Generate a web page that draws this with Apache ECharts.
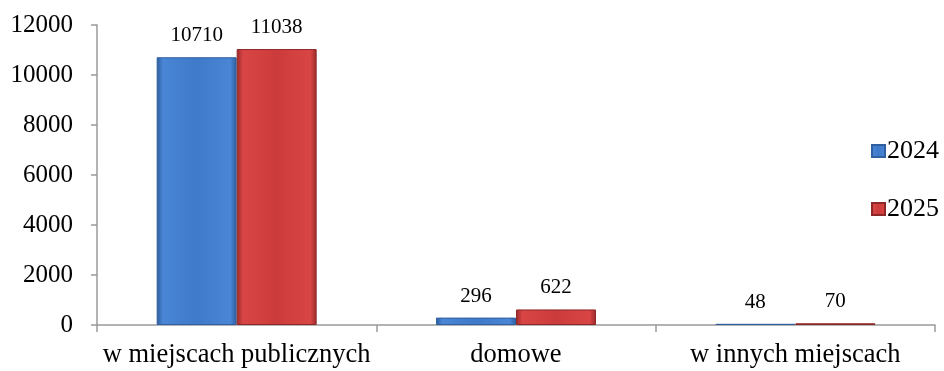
<!DOCTYPE html>
<html>
<head>
<meta charset="utf-8">
<script src="https://cdn.jsdelivr.net/npm/echarts@6/dist/echarts.min.js"></script>
<style>
  html, body { margin: 0; padding: 0; background: #fff; }
  #chart { width: 944px; height: 371px; }
</style>
</head>
<body>
<div id="chart"></div>
<script>
const categories = ['w miejscach publicznych', 'domowe', 'w innych miejscach'];
const years = ['2024', '2025'];
const values2024 = [10710, 296, 48];
const values2025 = [11038, 622, 70];
const yTicks = { min: 0, max: 12000, interval: 2000 };

const chart = echarts.init(document.getElementById('chart'));
const font = '"Liberation Serif", "Times New Roman", serif';

function barColor(light, mid, dark) {
    return new echarts.graphic.LinearGradient(0, 0, 1, 0, [
        { offset: 0, color: dark },
        { offset: 0.08, color: light },
        { offset: 0.5, color: mid },
        { offset: 0.92, color: light },
        { offset: 1, color: dark }
    ]);
}
const blue = barColor('#4a86d6', '#3f79c9', '#2e5d9e');
const red = barColor('#d94545', '#cc3b3b', '#9a2a2a');

let option = {
    animation: false,
    textStyle: { fontFamily: font },
    grid: { left: 97, right: 9, top: 25, bottom: 46 },
    legend: {
        orient: 'vertical',
        right: 0,
        top: 133,
        itemGap: 32,
        itemWidth: 13,
        itemHeight: 12,
        icon: 'rect',
        textStyle: { fontFamily: font, fontSize: 26, color: '#000', padding: [0, 0, 0, -3] },
        data: years
    },
    xAxis: {
        type: 'category',
        data: categories,
        axisLine: { lineStyle: { color: '#9a9a9a', width: 1.5 } },
        axisTick: { show: true, length: 7, lineStyle: { color: '#9a9a9a', width: 1.5 } },
        axisLabel: { fontFamily: font, fontSize: 26.5, color: '#000', margin: 17, interval: 0 }
    },
    yAxis: {
        type: 'value',
        min: yTicks.min,
        max: yTicks.max,
        interval: yTicks.interval,
        splitLine: { show: false },
        axisLine: { show: true, lineStyle: { color: '#9a9a9a', width: 1.5 } },
        axisTick: { show: true, length: 6, lineStyle: { color: '#9a9a9a', width: 1.5 } },
        axisLabel: { fontFamily: font, fontSize: 25, color: '#000', margin: 24, formatter: function (v) { return String(v); } }
    },
    series: [
        {
            name: years[0],
            type: 'bar',
            data: values2024,
            barWidth: 80,
            barGap: '0%',
            color: '#3f79c9',
            itemStyle: { color: blue, borderColor: '#2f5f9f', borderWidth: 1 },
            label: { show: true, position: 'top', distance: 11, fontFamily: font, fontSize: 21, color: '#000' }
        },
        {
            name: years[1],
            type: 'bar',
            data: values2025,
            barWidth: 80,
            color: '#cc3b3b',
            itemStyle: { color: red, borderColor: '#8e2828', borderWidth: 1 },
            label: { show: true, position: 'top', distance: 11, fontFamily: font, fontSize: 21, color: '#000' }
        }
    ]
};
chart.setOption(option);
</script>
</body>
</html>
